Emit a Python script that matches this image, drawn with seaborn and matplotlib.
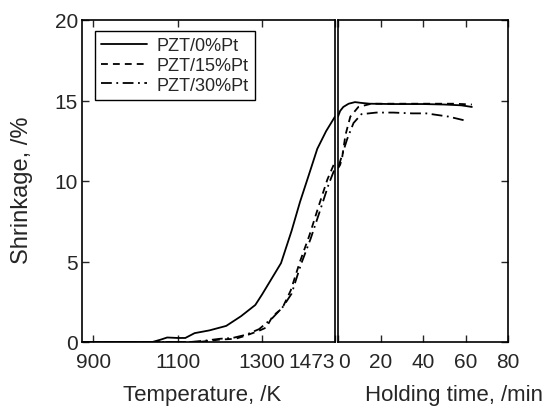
import matplotlib
matplotlib.use('Agg')
import matplotlib.pyplot as plt
import seaborn as sns
import pandas as pd

# heating stage, temperature in K
temp_0 = [873, 1040, 1060, 1075, 1100, 1118, 1140, 1175, 1215, 1250, 1284, 1300, 1345, 1370, 1390, 1410, 1431, 1452, 1473]
shrink_0 = [0, 0, 0.15, 0.28, 0.25, 0.25, 0.55, 0.72, 1.0, 1.6, 2.3, 2.95, 4.9, 6.9, 8.7, 10.3, 12.0, 13.1, 14.0]
temp_15 = [873, 1150, 1200, 1237, 1262, 1293, 1310, 1325, 1348, 1368, 1390, 1412, 1435, 1455, 1473]
shrink_15 = [0, 0, 0.15, 0.2, 0.4, 0.7, 0.9, 1.6, 2.1, 3.2, 5.0, 6.6, 8.5, 10.1, 11.2]
temp_30 = [873, 1130, 1170, 1200, 1230, 1262, 1293, 1325, 1350, 1370, 1392, 1415, 1438, 1458, 1473]
shrink_30 = [0, 0, 0.1, 0.2, 0.25, 0.45, 0.8, 1.5, 2.2, 3.0, 4.8, 6.4, 8.2, 9.8, 10.8]

# holding stage, time in min
hold_0 = [0, 1, 2.5, 5, 8, 11, 15, 25, 40, 50, 58, 63]
hshrink_0 = [14.0, 14.35, 14.6, 14.8, 14.9, 14.85, 14.8, 14.78, 14.78, 14.75, 14.7, 14.6]
hold_15 = [0, 1, 2, 3.5, 5.8, 9.6, 15.7, 25, 40, 55, 63]
hshrink_15 = [10.8, 11.0, 11.5, 12.85, 14.0, 14.6, 14.8, 14.8, 14.8, 14.8, 14.75]
hold_30 = [0, 1.2, 4.3, 7.3, 11, 18, 26, 35, 41.5, 52, 60]
hshrink_30 = [10.8, 11.3, 12.6, 13.6, 14.15, 14.25, 14.25, 14.2, 14.2, 14.0, 13.75]

labels = ['PZT/0%Pt', 'PZT/15%Pt', 'PZT/30%Pt']
styles = ['-', (0, (3.8, 2.8)), (0, (6, 2.5, 1, 2.5))]

temp_ticks = [900, 1100, 1300, 1473]
hold_ticks = [0, 20, 40, 60, 80]
y_ticks = [0, 5, 10, 15, 20]


def main():
    sns.set_style('ticks')
    plt.rcParams['font.family'] = ['Liberation Sans', 'DejaVu Sans']
    plt.rcParams['axes.linewidth'] = 1.2

    fig = plt.figure(figsize=(5.48, 4.14), dpi=100)
    ax1 = fig.add_axes([82/548, 71/414, 253/548, 322/414])
    ax2 = fig.add_axes([338/548, 71/414, 170/548, 322/414])

    heat = [(temp_0, shrink_0), (temp_15, shrink_15), (temp_30, shrink_30)]
    hold = [(hold_0, hshrink_0), (hold_15, hshrink_15), (hold_30, hshrink_30)]

    for (x, y), lab, ls in zip(heat, labels, styles):
        df = pd.DataFrame({'x': x, 'y': y})
        sns.lineplot(data=df, x='x', y='y', ax=ax1, color='black', lw=1.3,
                     linestyle=ls, label=lab, sort=False)
    for (x, y), ls in zip(hold, styles):
        df = pd.DataFrame({'x': x, 'y': y})
        sns.lineplot(data=df, x='x', y='y', ax=ax2, color='black', lw=1.3,
                     linestyle=ls, sort=False)

    ax1.set_xlim(873, 1473)
    ax1.set_ylim(0, 20)
    ax1.set_xticks(temp_ticks)
    ax1.set_yticks(y_ticks)
    ax1.tick_params(direction='in', length=5, width=1, top=True, right=False,
                    labelsize=15, pad=7)
    ax1.tick_params(axis='y', pad=3)
    ax1.get_xticklabels()[-1].set_ha('right')

    ax2.set_xlim(0, 80)
    ax2.set_ylim(0, 20)
    ax2.set_xticks(hold_ticks)
    ax2.set_yticks(y_ticks)
    ax2.tick_params(direction='in', length=5, width=1, top=True, right=True,
                    left=False, labelleft=False, labelsize=15, pad=7)
    ax2.get_xticklabels()[0].set_ha('left')

    for ax in (ax1, ax2):
        for sp in ax.spines.values():
            sp.set_visible(True)
            sp.set_color('black')

    ax1.set_xlabel('Temperature, /K', fontsize=16)
    ax1.xaxis.set_label_coords(0.476, -0.13)
    ax2.set_xlabel('Holding time, /min', fontsize=16)
    ax2.xaxis.set_label_coords(0.685, -0.13)
    ax2.set_ylabel('')
    ax1.set_ylabel('Shrinkage, /%', fontsize=17)
    ax1.yaxis.set_label_coords(-0.193, 0.475)

    leg = ax1.legend(loc='upper left', bbox_to_anchor=(0.051, 0.966), borderaxespad=0,
                     fontsize=13, handlelength=2.55, handletextpad=0.5,
                     labelspacing=0.15, borderpad=0.35, fancybox=False, framealpha=1)
    leg.get_frame().set_edgecolor('black')
    leg.get_frame().set_linewidth(1.0)

    fig.savefig('out.png', dpi=100)
    plt.close(fig)


if __name__ == '__main__':
    main()
